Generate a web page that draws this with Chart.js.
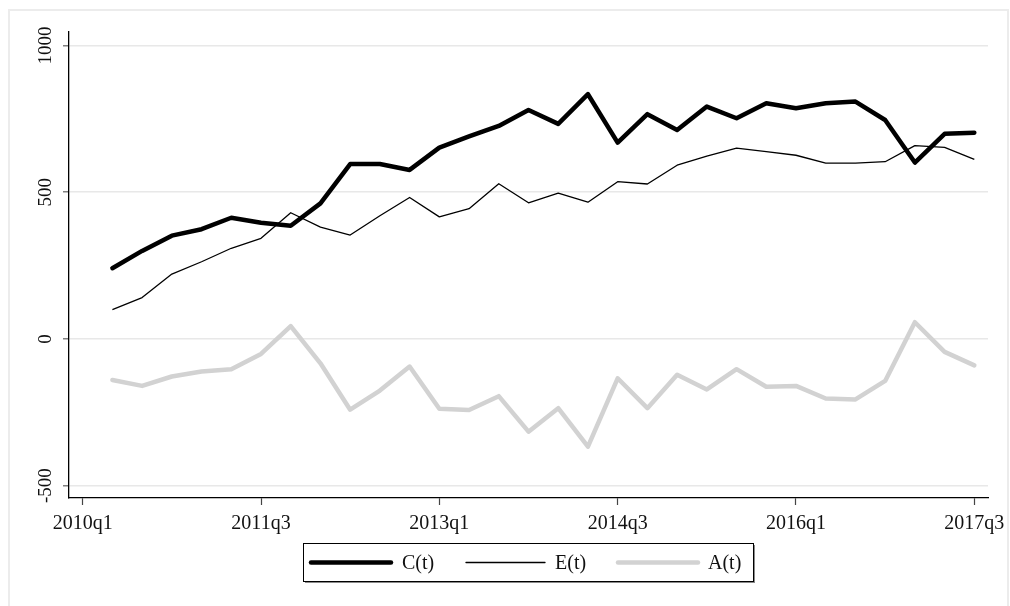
<!DOCTYPE html>
<html>
<head>
<meta charset="utf-8">
<script src="https://cdn.jsdelivr.net/npm/chart.js@4.4.1/dist/chart.umd.min.js"></script>
<style>
  html, body { margin: 0; padding: 0; background: #ffffff; }
  #wrap { width: 1010px; height: 606px; }
</style>
</head>
<body>
<div id="wrap"><canvas id="chart" width="1010" height="606"></canvas></div>
<script>
// Quarterly observations
const quarters = [
  '2010q2','2010q3','2010q4','2011q1','2011q2','2011q3','2011q4','2012q1','2012q2','2012q3',
  '2012q4','2013q1','2013q2','2013q3','2013q4','2014q1','2014q2','2014q3','2014q4','2015q1',
  '2015q2','2015q3','2015q4','2016q1','2016q2','2016q3','2016q4','2017q1','2017q2','2017q3'
];
const seriesC = [
  241, 300, 352, 374, 413, 396, 386, 462, 596, 596,
  576, 652, 690, 726, 780, 733, 834, 669, 766, 712,
  792, 752, 803, 786, 803, 809, 746, 601, 699, 703
];
const seriesE = [
  100, 141, 221, 263, 309, 343, 430, 381, 354, 420,
  482, 416, 444, 529, 464, 497, 466, 536, 528, 592,
  623, 650, 638, 626, 599, 599, 604, 659, 653, 612
];
const seriesA = [
  -140, -160, -128, -111, -103, -51, 44, -83, -241, -176,
  -94, -238, -242, -195, -316, -236, -367, -134, -236, -122,
  -172, -103, -163, -160, -203, -206, -143, 57, -44, -90
];
const xTickLabels = ['2010q1', '2011q3', '2013q1', '2014q3', '2016q1', '2017q3'];
const yTickValues = [-500, 0, 500, 1000];
const legendLabels = ['C(t)', 'E(t)', 'A(t)'];

const SERIF = '"Liberation Serif", "DejaVu Serif", serif';

// position of a quarter on the time axis (0 = 2010q1)
function qIndex(label) {
  return (parseInt(label.slice(0, 4), 10) - 2010) * 4 + parseInt(label.slice(5), 10) - 1;
}
function toPoints(values) {
  return values.map((v, i) => ({ x: qIndex(quarters[i]), y: v }));
}
const tickLabelByIndex = {};
xTickLabels.forEach(l => { tickLabelByIndex[qIndex(l)] = l; });

// frame, rotated y labels and boxed legend
const decorations = {
  id: 'decorations',
  beforeDraw(chart) {
    const ctx = chart.ctx;
    ctx.save();
    ctx.fillStyle = '#ffffff';
    ctx.fillRect(0, 0, chart.width, chart.height);
    ctx.strokeStyle = '#ececec';
    ctx.lineWidth = 2;
    ctx.strokeRect(9, 10, 999, 620);
    ctx.restore();
  },
  afterDraw(chart) {
    const ctx = chart.ctx;
    const yScale = chart.scales.y;
    ctx.save();
    ctx.fillStyle = '#111111';
    ctx.font = '19px ' + SERIF;
    ctx.textAlign = 'center';
    ctx.textBaseline = 'alphabetic';
    yScale.ticks.forEach(t => {
      const py = yScale.getPixelForValue(t.value);
      ctx.save();
      ctx.translate(51, py);
      ctx.rotate(-Math.PI / 2);
      ctx.fillText(String(t.value), 0, 0);
      ctx.restore();
    });

    // legend box
    const bx = 303, by = 543, bw = 450, bh = 38;
    ctx.fillStyle = '#8a8a8a';
    ctx.fillRect(bx + 2, by + 2, bw, bh);
    ctx.fillStyle = '#ffffff';
    ctx.fillRect(bx, by, bw, bh);
    ctx.strokeStyle = '#000000';
    ctx.lineWidth = 1;
    ctx.strokeRect(bx + 0.5, by + 0.5, bw, bh);

    const cy = by + bh / 2 + 0.5;
    const items = [
      { x0: 311, x1: 391, tx: 402 },
      { x0: 466, x1: 545, tx: 555 },
      { x0: 618, x1: 698, tx: 708 }
    ];
    ctx.font = '20px ' + SERIF;
    ctx.textAlign = 'left';
    ctx.textBaseline = 'middle';
    chart.data.datasets.forEach((ds, i) => {
      const it = items[i];
      ctx.strokeStyle = ds.borderColor;
      ctx.lineWidth = ds.borderWidth;
      ctx.lineCap = 'round';
      ctx.beginPath();
      ctx.moveTo(it.x0, cy);
      ctx.lineTo(it.x1, cy);
      ctx.stroke();
      ctx.fillStyle = '#111111';
      ctx.fillText(legendLabels[i], it.tx, cy + 1);
    });
    ctx.restore();
  }
};

new Chart(document.getElementById('chart'), {
  type: 'line',
  data: {
    datasets: [
      {
        label: legendLabels[0],
        data: toPoints(seriesC),
        borderColor: '#000000',
        borderWidth: 4.5,
        pointRadius: 0,
        borderJoinStyle: 'round',
        borderCapStyle: 'round',
        tension: 0,
        order: 1
      },
      {
        label: legendLabels[1],
        data: toPoints(seriesE),
        borderColor: '#000000',
        borderWidth: 1.3,
        pointRadius: 0,
        borderJoinStyle: 'round',
        tension: 0,
        order: 2
      },
      {
        label: legendLabels[2],
        data: toPoints(seriesA),
        borderColor: '#d2d2d2',
        borderWidth: 4.5,
        pointRadius: 0,
        borderJoinStyle: 'round',
        borderCapStyle: 'round',
        tension: 0,
        order: 3
      }
    ]
  },
  options: {
    responsive: false,
    animation: false,
    devicePixelRatio: 1,
    layout: { padding: { left: 0, right: 22, top: 32, bottom: 0 } },
    plugins: { legend: { display: false }, tooltip: { enabled: false } },
    scales: {
      x: {
        type: 'linear',
        min: -0.46,
        max: 30.46,
        afterBuildTicks: s => { s.ticks = xTickLabels.map(l => ({ value: qIndex(l) })); },
        afterFit: s => { s.height = 108; s.paddingLeft = 0; s.paddingRight = 0; },
        border: { display: true, color: '#000000', width: 1.3 },
        grid: {
          display: true,
          drawOnChartArea: false,
          drawTicks: true,
          tickLength: 7,
          tickColor: '#444444',
          tickWidth: 1.2
        },
        ticks: {
          autoSkip: false,
          maxRotation: 0,
          minRotation: 0,
          padding: 7,
          color: '#111111',
          font: { family: SERIF, size: 20 },
          callback: v => tickLabelByIndex[v] || ''
        }
      },
      y: {
        type: 'linear',
        min: -542,
        max: 1046,
        afterBuildTicks: s => { s.ticks = yTickValues.map(v => ({ value: v })); },
        afterFit: s => { s.width = 69; s.paddingTop = 0; s.paddingBottom = 0; },
        border: { display: true, color: '#000000', width: 1.3 },
        grid: {
          color: '#e8e8e8',
          lineWidth: 1.5,
          drawTicks: true,
          tickLength: 6,
          tickColor: '#808080',
          tickWidth: 1.5
        },
        ticks: { display: false }
      }
    }
  },
  plugins: [decorations]
});
</script>
</body>
</html>
